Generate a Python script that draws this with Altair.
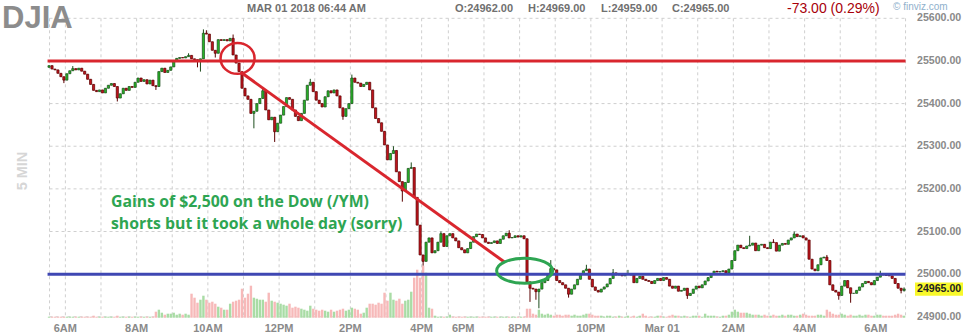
import altair as alt
import pandas as pd

# ------------------------------------------------------------------ data
START_OPEN = 25485.0

# 5-minute closes, bar 0 = 5:30 AM ... bar 288 = 6:45 AM next day
CLOSE = [
    25489, 25481, 25479, 25471, 25463, 25455, 25470, 25477, 25482, 25479,
    25483, 25476, 25469, 25457, 25445, 25431, 25428, 25432, 25425, 25436,
    25443, 25447, 25440, 25413, 25423, 25436, 25431, 25440, 25438, 25450,
    25460, 25452, 25456, 25446, 25455, 25442, 25440, 25475, 25483, 25473,
    25478, 25486, 25500, 25506, 25508, 25507, 25510, 25513, 25505, 25503,
    25500, 25505, 25565, 25563, 25545, 25525, 25518, 25550, 25548, 25550,
    25547, 25553, 25514, 25495, 25475, 25436, 25418, 25410, 25377, 25382,
    25400, 25412, 25430, 25385, 25362, 25368, 25334, 25354, 25373, 25393,
    25414, 25410, 25385, 25370, 25360, 25377, 25408, 25443, 25450, 25428,
    25408, 25400, 25392, 25416, 25430, 25425, 25432, 25418, 25390, 25370,
    25388, 25400, 25460, 25450, 25448, 25440, 25445, 25450, 25432, 25390,
    25365, 25355, 25335, 25303, 25268, 25283, 25290, 25240, 25217, 25195,
    25215, 25248, 25250, 25180, 25115, 25045, 25030, 25075, 25085, 25050,
    25055, 25075, 25095, 25065, 25090, 25095, 25085, 25078, 25062, 25057,
    25050, 25060, 25075, 25088, 25094, 25093, 25085, 25075, 25072, 25074,
    25078, 25072, 25082, 25090, 25096, 25085, 25086, 25090, 25087, 25090,
    25083, 24982, 24967, 24965, 24959, 24965, 24980, 24985, 24997, 25013,
    25010, 24985, 24980, 24975, 24967, 24953, 24965, 24975, 24988, 25000,
    25008, 25012, 24988, 24970, 24962, 24958, 24965, 24970, 24977, 24990,
    25003, 24998, 25000, 24996, 25000, 25001, 24998, 24980, 24990, 24995,
    24988, 24985, 24983, 24978, 24985, 24990, 24985, 24992, 24988, 24972,
    24967, 24972, 24960, 24962, 24967, 24950, 24955, 24965, 24972, 24968,
    24975, 24984, 24992, 25000, 25007, 25005, 25006, 25008, 25003, 25012,
    25032, 25055, 25068, 25062, 25060, 25066, 25068, 25073, 25055, 25068,
    25070, 25062, 25060, 25075, 25074, 25054, 25068, 25072, 25070, 25080,
    25085, 25094, 25088, 25090, 25085, 25080, 25035, 25012, 25008, 25022,
    25038, 25040, 25032, 24975, 24962, 24958, 24950, 24972, 24985, 24968,
    24955, 24955, 24962, 24970, 24978, 24983, 24980, 24975, 24985, 24993,
    25000, 24998, 24997, 24996, 24990, 24978, 24967, 24962, 24965,
]

# wick extremes that reach beyond the candle body
HIGH_WICKS = {8: 25488, 47: 25518, 52: 25574, 53: 25572, 62: 25562, 72: 25438,
              88: 25458, 102: 25468, 116: 25300, 122: 25262, 132: 25100,
              155: 25103, 169: 25033, 181: 25022, 190: 25012, 195: 25010,
              236: 25090, 244: 25082, 251: 25100, 262: 25045, 280: 25008,
              288: 24969}
LOW_WICKS = {5: 25448, 23: 25405, 36: 25432, 50: 25485, 51: 25475, 56: 25508,
             69: 25342, 76: 25310, 99: 25362, 119: 25170, 126: 25020,
             162: 24935, 164: 24940, 165: 24920, 175: 24945, 215: 24942,
             266: 24940, 270: 24933, 287: 24955, 288: 24959}

# volume (hundreds of contracts)
VOLUME = [
    1, 1, 1, 1, 1, 1, 1, 1, 1, 1,
    1, 1, 1, 1, 1, 2, 1, 1, 1, 1,
    1, 1, 1, 2, 1, 1, 1, 1, 1, 1,
    1, 1, 1, 1, 1, 1, 6, 8, 5, 3,
    4, 4, 5, 3, 4, 3, 4, 3, 24, 20,
    15, 18, 22, 18, 15, 16, 14, 11, 10, 8,
    8, 14, 16, 17, 18, 29, 20, 24, 32, 20,
    19, 18, 18, 16, 25, 17, 16, 15, 14, 13,
    12, 14, 10, 11, 10, 9, 8, 7, 12, 9,
    8, 7, 8, 7, 6, 8, 6, 7, 8, 9,
    7, 8, 10, 9, 8, 4, 5, 10, 14, 14,
    13, 15, 14, 25, 17, 25, 18, 17, 19, 14,
    17, 18, 26, 40, 48, 40, 52, 45, 10, 9,
    2, 1, 1, 1, 1, 3, 1, 1, 1, 1,
    1, 1, 1, 1, 1, 1, 1, 1, 1, 1,
    1, 1, 1, 1, 1, 1, 1, 1, 1, 1,
    1, 9, 9, 4, 3, 8, 4, 3, 4, 3,
    2, 3, 3, 2, 3, 3, 2, 3, 2, 2,
    3, 4, 4, 3, 2, 2, 2, 1, 2, 2,
    1, 1, 2, 1, 1, 2, 1, 2, 1, 2,
    4, 2, 1, 1, 1, 2, 2, 1, 1, 2,
    3, 2, 2, 1, 2, 1, 1, 2, 2, 2,
    1, 4, 2, 2, 2, 1, 1, 2, 2, 3,
    6, 8, 6, 5, 5, 5, 4, 3, 3, 3,
    2, 3, 2, 2, 3, 2, 2, 3, 2, 3,
    3, 2, 2, 3, 4, 3, 2, 2, 2, 3,
    3, 2, 8, 6, 4, 3, 3, 4, 3, 2,
    3, 2, 2, 3, 2, 3, 3, 2, 2, 3,
    3, 2, 2, 2, 2, 3, 4, 3, 2,
]

HOUR_GRID = [0.67, 6, 18, 30, 42, 54, 66, 78, 90, 102, 114, 126, 135, 147,
             159, 171, 183, 195, 207, 219, 231, 243, 255, 267, 279, 289]
TIME_LABELS = ["6AM", "8AM", "10AM", "12PM", "2PM", "4PM", "6PM", "8PM",
               "10PM", "Mar 01", "2AM", "4AM", "6AM"]
TIME_LABEL_POS = [6, 30, 54, 78, 102, 126, 140, 159, 183, 207, 231, 255, 279]
PRICE_TICKS = [25600, 25500, 25400, 25300, 25200, 25100, 25000, 24900]

SUPPORT_LEVEL = 25500
RESIST_LEVEL = 25000
TREND_T = [65, 154]
TREND_P = [25474, 25028]
RED_CIRCLE = (64, 25506)
GREEN_ELLIPSE = (160.7, 25008)

HEADER = ["MAR 01 2018 06:44 AM", "O:24962.00", "H:24969.00", "L:24959.00",
          "C:24965.00"]
CHANGE = "-73.00 (0.29%)"
NOTE = ["Gains of $2,500 on the Dow (/YM)", "shorts but it took a whole day (sorry)"]

# ------------------------------------------------------------------ table
n = len(CLOSE)
opens = [START_OPEN] + CLOSE[:-1]
rows = []
for i in range(n):
    o, c = opens[i], CLOSE[i]
    rows.append(dict(t=i + 0.5, open=o, close=c,
                     high=HIGH_WICKS.get(i, max(o, c)),
                     low=LOW_WICKS.get(i, min(o, c)),
                     vol=VOLUME[i], v0=0))
df = pd.DataFrame(rows)

W, H = 963, 335
XS = alt.Scale(domain=[-43 / 3, 920 / 3], nice=False, zero=False)
YS = alt.Scale(domain=[24857.32, 25642.92], nice=False, zero=False)
VS = alt.Scale(domain=[-17.3, 317.7], nice=False, zero=False)

GREEN, RED = "#27b427", "#c0141c"
GREEN_D, RED_D = "#1d4d1d", "#5a0000"
up = "datum.close >= datum.open"

X = lambda f: alt.X(f, scale=XS, axis=None)
Y = lambda f: alt.Y(f, scale=YS, axis=None)

grid_h = alt.Chart(pd.DataFrame({"p": PRICE_TICKS, "a": 0.67, "b": 289})).mark_rule(
    color="#cfcfcf", strokeDash=[3, 3], strokeWidth=1).encode(
    y=Y("p:Q"), x=X("a:Q"), x2="b:Q")
grid_v = alt.Chart(pd.DataFrame({"t": HOUR_GRID, "a": PRICE_TICKS[0],
                                 "b": PRICE_TICKS[-1]})).mark_rule(
    color="#cfcfcf", strokeDash=[3, 3], strokeWidth=1).encode(
    x=X("t:Q"), y=Y("a:Q"), y2="b:Q")

vol = alt.Chart(df).mark_bar(width=2.4).encode(
    x=X("t:Q"), y=alt.Y("vol:Q", scale=VS, axis=None), y2="v0:Q",
    color=alt.condition(up, alt.value("#a9dca5"), alt.value("#f7b9b9")))

wick = alt.Chart(df).mark_rule(strokeWidth=1).encode(
    x=X("t:Q"), y=Y("low:Q"), y2="high:Q",
    color=alt.condition(up, alt.value(GREEN_D), alt.value(RED_D)))

body = alt.Chart(df).mark_bar(width=2.2, strokeWidth=0.7).encode(
    x=X("t:Q"), y=Y("open:Q"), y2="close:Q",
    fill=alt.condition(up, alt.value(GREEN), alt.value(RED)),
    stroke=alt.condition(up, alt.value(GREEN_D), alt.value(RED_D)))

support = alt.Chart(pd.DataFrame({"p": [SUPPORT_LEVEL], "a": 0, "b": 289})).mark_rule(
    color="#d9262e", strokeWidth=3).encode(y=Y("p:Q"), x=X("a:Q"), x2="b:Q")
resist = alt.Chart(pd.DataFrame({"p": [RESIST_LEVEL], "a": 0, "b": 289})).mark_rule(
    color="#3f47b3", strokeWidth=3).encode(y=Y("p:Q"), x=X("a:Q"), x2="b:Q")

trend = alt.Chart(pd.DataFrame({"t": TREND_T, "p": TREND_P})).mark_line(
    color="#d9262e", strokeWidth=3).encode(x=X("t:Q"), y=Y("p:Q"))


def ellipse_path(r):
    k = 0.5523
    return (f"M 1 0 C 1 {k*r:.3f} {k:.3f} {r:.3f} 0 {r:.3f} "
            f"C {-k:.3f} {r:.3f} -1 {k*r:.3f} -1 0 "
            f"C -1 {-k*r:.3f} {-k:.3f} {-r:.3f} 0 {-r:.3f} "
            f"C {k:.3f} {-r:.3f} 1 {-k*r:.3f} 1 0 Z")


circ = alt.Chart(pd.DataFrame({"t": [RED_CIRCLE[0]], "p": [RED_CIRCLE[1]]})).mark_point(
    shape=ellipse_path(0.91), size=34 * 34, filled=False, color="#d9262e",
    strokeWidth=2.5, opacity=1).encode(x=X("t:Q"), y=Y("p:Q"))
ell = alt.Chart(pd.DataFrame({"t": [GREEN_ELLIPSE[0]], "p": [GREEN_ELLIPSE[1]]})).mark_point(
    shape=ellipse_path(0.45), size=56 * 56, filled=False, color="#2ea552",
    strokeWidth=3, opacity=1).encode(x=X("t:Q"), y=Y("p:Q"))

FONT = "Liberation Sans"


def txt(s, x, y, **kw):
    base = dict(align="left", baseline="alphabetic", font=FONT)
    base.update(kw)
    return alt.Chart(pd.DataFrame({"s": [s]})).mark_text(**base).encode(
        x=alt.value(x), y=alt.value(y), text="s:N")


header_x = [247, 455, 528, 601, 672]
headers = [txt(s, x, 12, fontSize=11, fontWeight="bold", color="#707070")
           for s, x in zip(HEADER, header_x)]
title = txt("DJIA", 2, 28, fontSize=31, fontWeight="bold", color="#8c8c8c")
change = txt(CHANGE, 787, 13, fontSize=14, color="#a8000a")
brand = txt("\u00a9 finviz.com", 893, 10, fontSize=10, color="#8fb0cc")
fivemin = alt.Chart(pd.DataFrame({"s": ["5 MIN"]})).mark_text(
    angle=270, font=FONT, fontSize=14.5, fontWeight="bold", color="#d6d6d6",
    align="center", baseline="middle").encode(
    x=alt.value(22.5), y=alt.value(171), text="s:N")

note = [txt(s, 111, y, font="Open Sans", fontSize=15.8, fontWeight="bold",
            color="#2ea552") for s, y in zip(NOTE, [207, 228.5])]

tl = alt.Chart(pd.DataFrame({"t": TIME_LABEL_POS, "s": TIME_LABELS})).mark_text(
    font=FONT, fontSize=11, fontWeight="bold", color="#8a8a8a",
    align="center", baseline="middle").encode(
    x=X("t:Q"), y=alt.value(328.5), text="s:N")

pl = alt.Chart(pd.DataFrame({"p": PRICE_TICKS,
                             "s": [f"{v:.2f}" for v in PRICE_TICKS]})).mark_text(
    font=FONT, fontSize=10.6, fontWeight="bold", color="#8a8a8a",
    align="left", baseline="middle").encode(
    x=alt.value(917), y=Y("p:Q"), text="s:N")

last = CLOSE[-1]
box = alt.Chart(pd.DataFrame({"a": [last + 15.5], "b": [last - 15.5]})).mark_rect(
    color="#f8f82a").encode(x=alt.value(915), x2=alt.value(963), y=Y("a:Q"), y2="b:Q")
lastlab = alt.Chart(pd.DataFrame({"p": [last], "s": [f"{last:.2f}"]})).mark_text(
    font=FONT, fontSize=10.6, fontWeight="bold", color="#222222",
    align="left", baseline="middle").encode(
    x=alt.value(917), y=Y("p:Q"), text="s:N")

chart = alt.layer(
    grid_h, grid_v, vol, wick, body, support, resist, trend, circ, ell,
    title, *headers, change, brand, fivemin, *note, tl, pl, box, lastlab,
).resolve_scale(y="independent").properties(
    width=W, height=H, autosize=alt.AutoSizeParams(type="none"), padding=0,
    background="white",
).configure_view(strokeWidth=0)

chart.save("out.html", embed_options={"renderer": "svg", "actions": False})
